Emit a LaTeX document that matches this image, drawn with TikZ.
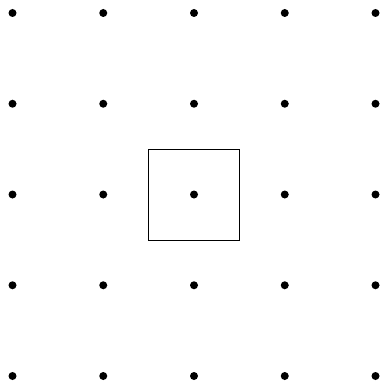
\documentclass[tikz,border=0pt]{standalone}
\begin{document}
\begin{tikzpicture}[x=1pt,y=-1pt,
  gridpt/.style={circle,fill=black,inner sep=0pt,minimum size=8pt},
  frame/.style={draw=black,line width=0.9pt,minimum size=91pt,inner sep=0pt}]
\useasboundingbox (0,0) rectangle (382,385);
\foreach \i in {0,...,4}{
  \foreach \j in {0,...,4}{
    \node[gridpt] (p\i\j) at ({12.5+90.75*\i},{13+90.75*\j}) {};
  }
}
\node[frame] (box) at (p22) {};
\end{tikzpicture}
\end{document}
